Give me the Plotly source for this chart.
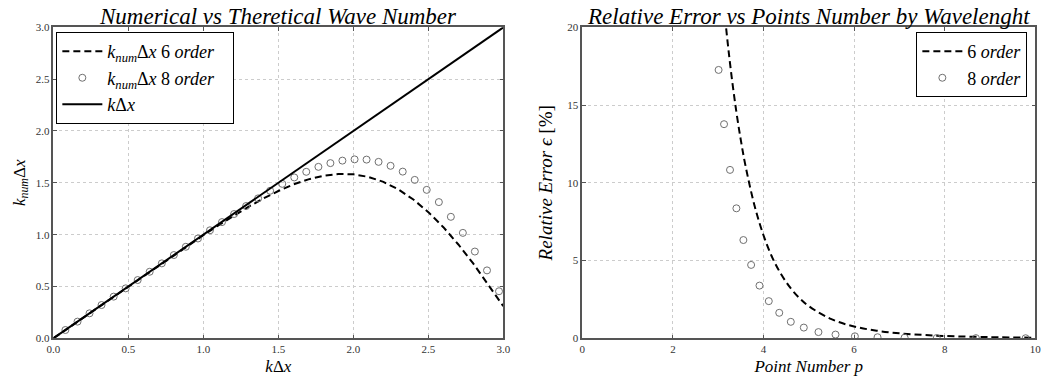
import plotly.graph_objects as go

# ---------- Left panel data ----------
kdx_exact = [0.0, 3.0]
knum_exact = [0.0, 3.0]

kdx_6 = [0.0, 0.1, 0.2, 0.3, 0.4, 0.5, 0.6, 0.7, 0.8, 0.9, 1.0, 1.1, 1.2, 1.3, 1.4, 1.5,
         1.6, 1.7, 1.8, 1.9, 2.0, 2.1, 2.2, 2.3, 2.4, 2.5, 2.6, 2.7, 2.8, 2.9, 3.0]
knum_6 = [0.0, 0.100, 0.200, 0.300, 0.400, 0.500, 0.600, 0.699, 0.799, 0.897, 0.994, 1.089,
          1.181, 1.268, 1.349, 1.421, 1.484, 1.533, 1.568, 1.585, 1.582, 1.557, 1.509,
          1.436, 1.339, 1.217, 1.072, 0.905, 0.720, 0.520, 0.309]

kdx_8 = [0.080, 0.161, 0.241, 0.321, 0.402, 0.482, 0.562, 0.642, 0.723, 0.803, 0.883, 0.964,
         1.044, 1.124, 1.205, 1.285, 1.365, 1.445, 1.526, 1.606, 1.686, 1.767, 1.847, 1.927,
         2.008, 2.088, 2.168, 2.248, 2.329, 2.409, 2.489, 2.570, 2.650, 2.730, 2.810, 2.891, 2.971]
knum_8 = [0.080, 0.161, 0.241, 0.321, 0.402, 0.482, 0.562, 0.642, 0.723, 0.803, 0.883, 0.963,
          1.042, 1.121, 1.199, 1.276, 1.350, 1.423, 1.490, 1.552, 1.606, 1.654, 1.690, 1.714,
          1.726, 1.724, 1.702, 1.664, 1.608, 1.528, 1.432, 1.314, 1.172, 1.017, 0.837, 0.655, 0.454]

# ---------- Right panel data ----------
p_6 = [3.0, 3.1, 3.2, 3.3, 3.4, 3.5, 3.6, 3.8, 4.0, 4.2, 4.4, 4.6, 4.8, 5.0, 5.5, 6.0,
       6.5, 7.0, 7.5, 8.0, 9.0, 10.0]
err_6 = [25.57, 22.18, 19.27, 16.75, 14.59, 12.74, 11.14, 8.56, 6.63, 5.16, 4.07, 3.22,
         2.57, 2.07, 1.23, 0.76, 0.49, 0.32, 0.22, 0.15, 0.075, 0.041]

p_8 = [3.009, 3.129, 3.261, 3.402, 3.556, 3.727, 3.912, 4.117, 4.348, 4.603, 4.890, 5.214,
       5.590, 6.018, 6.518, 7.116, 7.825, 8.690, 9.787]
err_8 = [17.26, 13.77, 10.83, 8.36, 6.32, 4.72, 3.39, 2.39, 1.64, 1.06, 0.69, 0.40,
         0.24, 0.13, 0.07, 0.04, 0.02, 0.01, 0.005]

left_ticks = [0.0, 0.5, 1.0, 1.5, 2.0, 2.5, 3.0]
right_xticks = [0, 2, 4, 6, 8, 10]
right_yticks = [0, 5, 10, 15, 20]

SERIF = "Times New Roman, Tinos, Liberation Serif, Noto Serif, DejaVu Serif, FreeSerif, serif"
FRAME = "#555555"
GRID = "#cccccc"
MARK = "#707070"
PAD = "\u00a0\u00a0\u00a0"

fig = go.Figure()

# Left panel
fig.add_trace(go.Scatter(
    x=kdx_6, y=knum_6, mode="lines",
    line=dict(color="black", width=2, dash="7px,4px"),
    name="<i>k</i><sub><i>num</i></sub>Δ<i>x</i> 6 <i>order</i>" + PAD,
    xaxis="x", yaxis="y", legend="legend"))
fig.add_trace(go.Scatter(
    x=kdx_8, y=knum_8, mode="markers",
    marker=dict(symbol="circle-open", size=7, color=MARK, line=dict(width=1, color=MARK)),
    name="<i>k</i><sub><i>num</i></sub>Δ<i>x</i> 8 <i>order</i>" + PAD,
    xaxis="x", yaxis="y", legend="legend"))
fig.add_trace(go.Scatter(
    x=kdx_exact, y=knum_exact, mode="lines",
    line=dict(color="black", width=2),
    name="<i>k</i>Δ<i>x</i>",
    xaxis="x", yaxis="y", legend="legend"))

# Right panel
fig.add_trace(go.Scatter(
    x=p_6, y=err_6, mode="lines", line_shape="spline",
    line=dict(color="black", width=2, dash="7px,4px"),
    name="6 <i>order</i>",
    xaxis="x2", yaxis="y2", legend="legend2"))
fig.add_trace(go.Scatter(
    x=p_8, y=err_8, mode="markers",
    marker=dict(symbol="circle-open", size=7, color=MARK, line=dict(width=1, color=MARK)),
    name="8 <i>order</i>",
    xaxis="x2", yaxis="y2", legend="legend2"))

W, H = 1061, 385
L1, R1 = 47 / W, 503 / W
L2, R2 = 583 / W, 1042 / W
TOP, BOT = 1 - 22 / H, 1 - 343 / H

axis_common = dict(
    showline=True, linecolor=FRAME, linewidth=1.5, mirror="ticks",
    ticks="inside", ticklen=4, tickcolor=FRAME,
    showgrid=True, gridcolor=GRID, griddash="dot", gridwidth=1,
    zeroline=False,
    tickfont=dict(family=SERIF, size=11, color="#333333"),
)

leg_common = dict(bgcolor="white", bordercolor="black", borderwidth=1,
                  font=dict(family=SERIF, size=18), itemwidth=40)

fig.update_layout(
    width=W, height=H,
    margin=dict(l=0, r=0, t=0, b=0),
    paper_bgcolor="white", plot_bgcolor="white",
    font=dict(family=SERIF, color="black"),
    xaxis=dict(domain=[L1, R1], range=[0, 3], tickvals=left_ticks,
               ticktext=[f"{v:.1f}" for v in left_ticks], anchor="y",
               title=dict(text="<i>k</i>Δ<i>x</i>", font=dict(family=SERIF, size=17), standoff=6),
               **axis_common),
    yaxis=dict(domain=[BOT, TOP], range=[0, 3], tickvals=left_ticks,
               ticktext=[f"{v:.1f}" for v in left_ticks], anchor="x",
               title=dict(text="<i>k</i><sub><i>num</i></sub>Δ<i>x</i>", font=dict(family=SERIF, size=17), standoff=6),
               **axis_common),
    xaxis2=dict(domain=[L2, R2], range=[0, 10], tickvals=right_xticks,
                ticktext=[str(v) for v in right_xticks], anchor="y2",
                title=dict(text="<i>Point Number p</i>", font=dict(family=SERIF, size=17), standoff=6),
                **axis_common),
    yaxis2=dict(domain=[BOT, TOP], range=[0, 20], tickvals=right_yticks,
                ticktext=[str(v) for v in right_yticks], anchor="x2",
                title=dict(text="<i>Relative Error ϵ</i> [%]", font=dict(family=SERIF, size=19), standoff=10),
                **axis_common),
    legend=dict(x=50 / W, y=1 - 27 / H, xanchor="left", yanchor="top", **leg_common),
    legend2=dict(x=1034 / W, y=1 - 27 / H, xanchor="right", yanchor="top", **leg_common),
    annotations=[
        dict(text="<i>Numerical vs Theretical Wave Number</i>", x=(L1 + R1) / 2, y=1 - 11 / H,
             xref="paper", yref="paper", xanchor="center", yanchor="middle",
             showarrow=False, font=dict(family=SERIF, size=23, color="black")),
        dict(text="<i>Relative Error vs Points Number by Wavelenght</i>", x=(L2 + R2) / 2, y=1 - 11 / H,
             xref="paper", yref="paper", xanchor="center", yanchor="middle",
             showarrow=False, font=dict(family=SERIF, size=23, color="black")),
    ],
)

fig.write_html("out.html")
